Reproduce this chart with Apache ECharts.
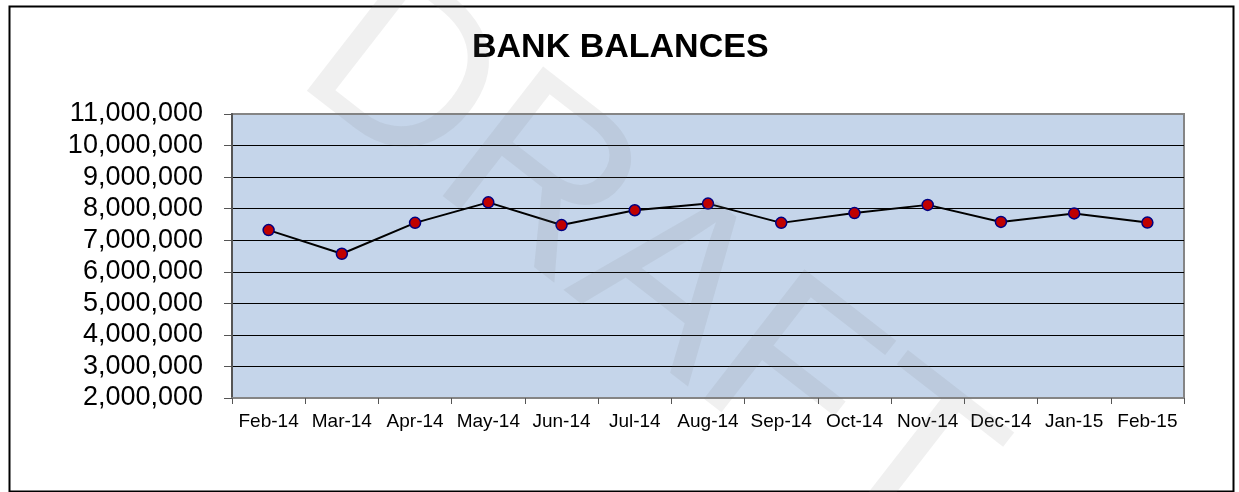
<!DOCTYPE html>
<html>
<head>
<meta charset="UTF-8">
<title>Bank Balances</title>
<script src="https://cdn.jsdelivr.net/npm/echarts@6/dist/echarts.min.js"></script>
<style>
  html, body { margin: 0; padding: 0; background: #fff; }
</style>
</head>
<body>
    <!-- chart container -->
    <div id="container" style="width: 1239px; height: 492px;"></div>
    <script type="text/javascript">
    // months along the x axis
    var months = ['Feb-14', 'Mar-14', 'Apr-14', 'May-14', 'Jun-14', 'Jul-14', 'Aug-14',
                  'Sep-14', 'Oct-14', 'Nov-14', 'Dec-14', 'Jan-15', 'Feb-15'];
    // month-end balance
    var balances = [7320000, 6570000, 7550000, 8200000, 7480000, 7950000, 8160000,
                    7550000, 7860000, 8120000, 7580000, 7850000, 7560000];
    // y axis range
    var yMin = 2000000, yMax = 11000000, yStep = 1000000;

    var mychart = echarts.init(document.getElementById('container'));

    var option = {
        animation: false,
        title: {
            text: 'BANK BALANCES',
            left: 467,
            top: 26,
            textStyle: {
                fontFamily: 'Liberation Sans, Arial, sans-serif',
                fontSize: 34,
                fontWeight: 'bold',
                color: '#000'
            }
        },
        grid: {
            left: 232,
            right: 55,
            top: 114,
            bottom: 94,
            show: true,
            backgroundColor: '#c5d5ea',
            borderColor: '#858585',
            borderWidth: 2
        },
        xAxis: {
            type: 'category',
            data: months,
            boundaryGap: true,
            axisLine: { lineStyle: { color: '#858585', width: 2 } },
            axisTick: { show: true, length: 6, lineStyle: { color: '#555' } },
            axisLabel: {
                interval: 0,
                margin: 14,
                fontFamily: 'Liberation Sans, Arial, sans-serif',
                fontSize: 19,
                color: '#000'
            },
            splitLine: { show: false }
        },
        yAxis: {
            type: 'value',
            min: yMin,
            max: yMax,
            interval: yStep,
            axisLine: { show: true, lineStyle: { color: '#555', width: 2 } },
            axisTick: { show: true, length: 8, lineStyle: { color: '#555' } },
            axisLabel: {
                margin: 29,
                fontFamily: 'Liberation Sans, Arial, sans-serif',
                fontSize: 27,
                color: '#000',
                formatter: function (v) { return v.toLocaleString('en-US'); }
            },
            splitLine: {
                show: true,
                showMinLine: false,
                showMaxLine: false,
                lineStyle: { color: '#000', width: 1 }
            }
        },
        series: [{
            name: 'Balance',
            type: 'line',
            data: balances,
            symbol: 'circle',
            symbolSize: 11,
            lineStyle: { color: '#000', width: 2 },
            itemStyle: { color: '#c00000', borderColor: '#000080', borderWidth: 1.5 }
        }],
        graphic: [
            {
                type: 'rect',
                left: 7,
                top: 4,
                shape: { width: 1224, height: 485 },
                style: { fill: 'none', stroke: '#000', lineWidth: 2 },
                z: 0,
                silent: true
            },
            {
                // DRAFT watermark across the chart
                type: 'text',
                x: 645,
                y: 270,
                rotation: -0.66,
                z: 100,
                silent: true,
                style: {
                    text: 'DRAFT',
                    fontFamily: 'Liberation Sans, Arial, sans-serif',
                    fontSize: 238,
                    fill: 'rgba(120,120,120,0.11)',
                    align: 'center',
                    verticalAlign: 'middle'
                }
            }
        ]
    };

    mychart.setOption(option);
    </script>
</body>
</html>
